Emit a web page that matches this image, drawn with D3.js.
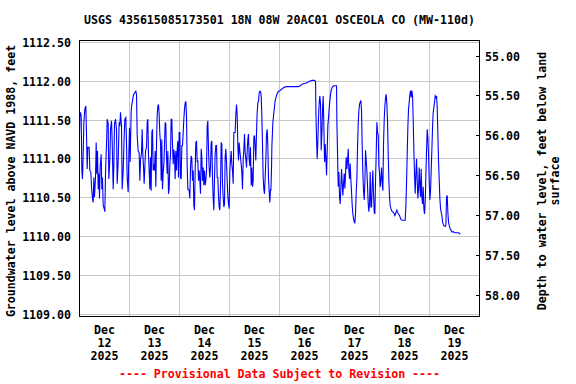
<!DOCTYPE html>
<html><head><meta charset="utf-8">
<script src="https://cdn.jsdelivr.net/npm/d3@7"></script>
<style>
body{margin:0;background:#fff}
svg{display:block}
text{font-family:"DejaVu Sans Mono","Liberation Mono",monospace;font-weight:bold;font-size:11.6px;fill:#000}
</style>
</head><body>
<svg id="chart" width="576" height="384"></svg>
<script>
const title = "USGS 435615085173501 18N 08W 20AC01 OSCEOLA CO (MW-110d)";
const leftAxisTitle = "Groundwater level above NAVD 1988, feet";
const rightAxisTitle = ["Depth to water level, feet below land", "surface"];
const footerText = "---- Provisional Data Subject to Revision ----";
const startTime = new Date(2025, 11, 12, 0, 0);
const endTime = new Date(2025, 11, 20, 0, 0);
const monthLabel = "Dec";
const yearLabel = "2025";
const dayLabels = ["12", "13", "14", "15", "16", "17", "18", "19"];
const levelTicks = [1109.0, 1109.5, 1110.0, 1110.5, 1111.0, 1111.5, 1112.0, 1112.5];
const depthTicks = [55.0, 55.5, 56.0, 56.5, 57.0, 57.5, 58.0];

// hours after Dec 12 2025 00:00
const hoursFromStart = [
0,0.16,0.48,0.8,1.12,1.44,1.76,2.08,2.56,3.04,
3.36,3.68,4.0,4.64,4.96,5.44,5.76,6.24,6.56,6.88,
7.2,7.68,8.0,8.32,8.64,8.96,9.28,9.6,9.92,10.4,
10.72,11.04,11.36,11.84,12.16,12.48,12.96,13.28,13.76,14.08,
14.56,14.88,15.36,15.68,16.16,16.48,16.8,17.28,17.76,18.08,
18.56,19.04,19.36,19.68,20.16,20.48,20.96,21.44,21.76,22.24,
22.56,22.88,23.36,23.68,24.0,24.32,24.8,25.12,25.44,25.76,
26.08,26.56,27.04,27.36,27.68,28.16,28.64,28.96,29.28,29.76,
30.08,30.4,30.72,31.04,31.36,31.68,32.16,32.48,32.8,33.12,
33.44,33.76,34.08,34.4,34.72,35.04,35.36,35.68,36.0,36.32,
36.64,36.96,37.28,37.6,37.92,38.24,38.56,38.88,39.2,39.52,
39.84,40.16,40.48,40.8,41.12,41.44,41.76,42.08,42.4,42.72,
43.04,43.36,43.68,44.0,44.32,44.64,44.96,45.28,45.6,45.92,
46.24,46.56,46.88,47.2,47.52,47.84,
48.16,48.48,48.8,49.12,49.44,49.76,50.08,50.4,50.72,51.04,
51.36,51.68,52.0,52.32,52.64,52.96,53.28,53.6,53.92,54.24,
54.56,54.88,55.2,55.52,55.84,56.16,56.48,56.8,57.12,57.44,
57.76,58.08,58.4,58.72,59.04,59.36,59.68,60.0,60.32,60.64,
60.96,61.28,61.6,61.92,62.24,62.56,62.88,63.2,63.52,63.84,
64.16,64.48,64.8,65.12,65.44,65.76,66.08,66.4,66.72,67.04,
67.36,67.68,68.0,68.32,68.64,68.96,69.28,69.6,69.92,70.24,
70.56,70.88,71.2,71.52,71.84,72.16,72.48,72.8,73.12,73.44,
73.76,74.08,74.4,74.72,75.04,75.36,75.68,76.0,76.32,76.64,
76.96,77.28,77.6,77.92,78.24,78.56,78.88,79.2,79.52,79.84,
80.16,80.48,80.8,81.12,81.44,81.76,82.08,82.4,82.72,83.04,
83.36,83.68,84.0,84.32,84.64,84.96,85.28,85.6,85.92,86.24,
86.56,86.88,87.2,87.52,87.84,88.16,88.48,88.8,89.12,89.44,
89.76,90.08,90.4,90.72,91.04,91.36,91.68,
91.86,92.18,92.34,92.82,93.46,93.94,94.74,95.54,96.34,97.14,
98.26,99.54,105.14,105.94,106.74,108.34,109.14,110.42,111.54,112.82,
113.3,113.46,113.78,114.1,114.42,114.74,115.06,115.38,115.7,116.02,
116.34,116.66,116.98,117.3,117.62,117.94,118.26,118.58,118.9,119.22,
119.54,119.86,120.18,120.5,120.82,121.3,121.94,123.38,123.54,123.86,
124.18,124.5,124.82,125.14,125.46,125.78,126.1,126.42,126.74,127.06,
127.38,127.7,128.02,128.34,128.66,128.98,129.3,129.62,129.94,130.26,
130.58,130.9,131.22,131.54,131.86,132.18,132.5,132.82,133.14,133.46,
133.78,134.1,134.42,134.74,135.06,135.38,135.7,136.02,136.34,136.66,
136.98,137.3,137.62,137.94,138.26,138.58,138.9,139.22,139.54,139.86,
140.18,140.5,140.82,141.14,141.46,141.78,142.1,142.42,142.74,143.06,
143.38,143.7,144.02,144.34,144.66,144.98,145.3,145.62,145.94,146.26,
146.58,146.9,147.22,147.54,147.86,148.18,148.5,148.82,149.14,149.46,
149.78,150.1,150.74,151.06,151.38,151.7,152.02,152.34,152.66,153.14,
153.62,154.26,154.9,156.34,156.66,156.98,157.3,157.62,157.94,158.26,
158.58,158.9,159.22,159.54,159.86,160.18,160.5,160.82,161.14,161.46,
161.78,162.1,162.42,162.74,163.06,163.38,163.7,164.02,164.34,164.66,
164.98,165.3,165.62,165.94,166.26,166.58,166.9,167.22,167.54,167.86,
168.18,168.5,168.82,169.14,169.46,169.78,170.1,170.42,170.74,171.06,
171.38,171.7,172.02,172.34,172.66,172.98,173.3,173.62,173.94,174.26,
174.58,174.9,175.22,175.54,175.86,176.18,176.5,176.82,177.14,177.46,
177.94,178.74,179.54,180.34,181.14,181.94,182.42,182.74
];

// groundwater level, feet above NAVD 1988
const levelFt = [
1111.32,1111.55,1111.60,1111.55,1110.85,1110.74,1111.06,1111.47,1111.64,1111.68,
1111.32,1110.87,1111.15,1111.15,1110.85,1110.83,1110.64,1110.49,1110.44,1110.76,
1110.51,1110.76,1111.21,1110.81,1111.10,1110.61,1110.81,1110.49,1110.89,1111.06,
1110.61,1110.76,1110.40,1110.36,1110.32,1110.81,1111.19,1111.51,1111.45,1110.74,
1110.98,1111.38,1111.49,1111.23,1110.61,1110.91,1111.45,1111.51,1111.38,1110.68,
1110.98,1111.47,1111.42,1111.60,1111.42,1110.61,1110.85,1111.28,1111.51,1111.53,
1111.21,1110.76,1110.57,1111.06,1111.40,1110.96,1111.62,1111.70,1111.74,1111.81,
1111.83,1111.85,1111.87,1111.83,1111.30,1111.10,1111.08,1110.72,1110.98,1111.08,
1111.38,1111.06,1110.91,1110.68,1110.89,1111.10,1111.15,1111.47,1111.51,1111.06,
1110.85,1110.61,1111.02,1110.59,1111.34,1111.38,1110.85,1110.93,1110.85,1111.10,
1110.64,1111.19,1111.55,1111.68,1111.70,1111.57,1111.32,1111.21,1110.72,1111.25,
1110.61,1110.83,1110.93,1111.17,1111.47,1111.45,1111.02,1110.81,1111.10,1110.55,
1110.61,1110.93,1111.06,1111.51,1111.51,1111.19,1110.93,1111.12,1111.04,1110.74,
1111.10,1110.85,1111.12,1111.23,1110.76,1111.34,
1111.34,1110.76,1110.74,1111.17,1111.17,1111.34,1111.51,1111.64,1111.72,1111.74,
1111.55,1110.91,1110.61,1110.61,1110.59,1110.49,1110.89,1111.04,1111.00,1110.72,
1110.85,1110.40,1110.34,1110.85,1111.21,1111.23,1110.96,1110.98,1110.72,1110.85,
1110.72,1110.55,1111.13,1111.02,1110.72,1110.89,1110.66,1110.85,1110.66,1110.72,
1110.85,1111.42,1111.49,1111.13,1110.89,1110.76,1110.89,1111.21,1111.23,1110.76,
1110.49,1110.34,1110.74,1111.06,1111.17,1111.17,1110.76,1110.76,1110.53,1110.38,
1110.34,1110.66,1111.21,1111.19,1110.68,1110.51,1110.38,1110.42,1111.02,1111.13,
1110.96,1110.72,1110.53,1110.42,1110.36,1110.85,1110.98,1111.10,1110.93,1110.85,
1110.68,1111.34,1111.34,1111.34,1111.57,1111.70,1111.57,1111.17,1110.98,1111.21,
1111.10,1111.02,1110.93,1110.83,1110.61,1110.98,1111.13,1111.32,1111.08,1111.00,
1110.89,1111.10,1111.25,1111.32,1111.00,1110.91,1111.15,1110.66,1110.89,1110.64,
1110.72,1111.28,1111.30,1111.15,1110.98,1111.34,1111.60,1111.72,1111.74,1111.85,
1111.87,1111.87,1111.81,1111.57,1111.19,1110.76,1110.61,1110.55,1110.76,1110.98,
1111.32,1111.38,1111.17,1110.74,1110.59,1110.44,1110.61,
1110.59,1110.89,1111.15,1111.47,1111.64,1111.75,1111.83,1111.87,1111.88,1111.90,
1111.92,1111.93,1111.93,1111.94,1111.96,1111.97,1111.98,1112.00,1112.01,1112.01,
1112.00,1111.62,1111.26,1111.00,1111.23,1111.53,1111.73,1111.81,1111.70,1111.11,
1111.32,1111.64,1111.81,1111.41,1110.96,1111.19,1111.00,1110.79,1111.11,1111.43,
1111.53,1111.66,1111.75,1111.83,1111.88,1111.92,1111.94,1111.94,1111.49,1111.06,
1110.64,1110.83,1110.51,1110.42,1110.64,1110.87,1110.68,1110.53,1110.68,1110.81,
1110.62,1110.81,1111.02,1110.87,1110.98,1111.13,1110.85,1110.74,1110.94,1110.72,
1110.57,1110.40,1110.29,1110.23,1110.19,1110.17,1110.31,1110.57,1110.74,1111.15,
1111.45,1111.62,1111.70,1111.73,1111.75,1111.62,1111.15,1110.81,1110.59,1110.47,
1110.70,1111.11,1110.98,1110.85,1110.64,1110.42,1110.32,1110.44,1110.83,1110.38,
1110.38,1110.68,1110.85,1110.55,1110.31,1110.29,1110.72,1111.06,1111.47,1111.34,
1111.30,1110.91,1110.81,1110.64,1110.74,1110.89,1110.68,1110.59,1111.19,1111.51,
1111.68,1111.79,1111.83,1111.70,1111.47,1111.06,1110.72,1110.51,1110.40,1110.36,
1110.34,1110.32,1110.31,1110.29,1110.27,1110.29,1110.32,1110.34,1110.31,1110.29,
1110.27,1110.22,1110.21,1110.21,1110.40,1110.70,1111.06,1111.41,1111.64,1111.73,
1111.83,1111.88,1111.79,1111.88,1111.81,1111.49,1111.11,1110.79,1110.55,1110.81,
1111.00,1110.72,1110.49,1110.62,1110.89,1110.64,1110.51,1110.87,1110.51,1110.42,
1110.64,1110.36,1110.29,1110.44,1110.79,1111.11,1111.38,1111.28,1111.06,1110.72,
1110.47,1110.59,1110.85,1111.11,1111.41,1111.60,1111.66,1111.73,1111.81,1111.79,
1111.81,1111.66,1111.32,1110.98,1110.72,1110.49,1110.36,1110.31,1110.27,1110.19,
1110.16,1110.14,1110.14,1110.13,1110.15,1110.51,1110.53,1110.31,1110.19,1110.14,
1110.10,1110.06,1110.06,1110.05,1110.05,1110.05,1110.04,1110.03
];

const series = hoursFromStart.map((h, i) => ({
  t: d3.timeMinute.offset(startTime, Math.round(h * 60)),
  v: levelFt[i]
}));

const svg = d3.select("#chart");
const plot = {left: 79.5, right: 479.5, top: 40.5, bottom: 316.5};

const x = d3.scaleTime().domain([startTime, endTime]).range([plot.left, plot.right]);
const y = d3.scaleLinear().domain([1109, 1112.5]).range([314.3, 42.3]);
const yDepth = d3.scaleLinear().domain([55, 58]).range([56, 295]);
const snap = v => Math.round(v - 0.5) + 0.5;

// grid
const grid = svg.append("g").attr("shape-rendering", "crispEdges")
  .attr("stroke", "#c8c8c8").attr("stroke-width", 1);
grid.selectAll("line.h").data(levelTicks).join("line")
  .attr("x1", plot.left).attr("x2", plot.right)
  .attr("y1", d => snap(y(d))).attr("y2", d => snap(y(d)));
const dayStarts = d3.timeDay.range(d3.timeDay.offset(startTime, 1), endTime);
grid.selectAll("line.v").data(dayStarts).join("line")
  .attr("x1", d => snap(x(d))).attr("x2", d => snap(x(d)))
  .attr("y1", plot.top).attr("y2", plot.bottom);

// data line
const line = d3.line().x(d => x(d.t)).y(d => y(d.v));
svg.append("path").datum(series)
  .attr("fill", "none").attr("stroke", "#0000ff").attr("stroke-width", 1.1)
  .attr("stroke-linejoin", "miter")
  .attr("d", line);

// frame
svg.append("rect").attr("x", plot.left).attr("y", plot.top)
  .attr("width", plot.right - plot.left).attr("height", plot.bottom - plot.top)
  .attr("fill", "none").attr("stroke", "#000").attr("shape-rendering", "crispEdges");

// left tick labels
svg.append("g").selectAll("text").data(levelTicks).join("text")
  .attr("x", 71).attr("y", d => y(d) + 4.5)
  .attr("text-anchor", "end").text(d => d3.format(".2f")(d));

// right ticks (inside the frame) and labels
const rt = svg.append("g");
rt.selectAll("line").data(depthTicks).join("line")
  .attr("shape-rendering", "crispEdges")
  .attr("x1", plot.right - 4).attr("x2", plot.right)
  .attr("y1", d => snap(yDepth(d))).attr("y2", d => snap(yDepth(d)))
  .attr("stroke", "#000");
rt.selectAll("text").data(depthTicks).join("text")
  .attr("x", 485).attr("y", d => yDepth(d) + 4.5)
  .text(d => d3.format(".2f")(d));

// x labels at noon
const noons = dayLabels.map((d, i) => d3.timeHour.offset(startTime, i * 24 + 12));
const xl = svg.append("g").selectAll("g").data(noons).join("g")
  .attr("transform", d => `translate(${x(d)},0)`);
xl.append("text").attr("y", 334).attr("text-anchor", "middle").text(monthLabel);
xl.append("text").attr("y", 347).attr("text-anchor", "middle").text((d, i) => dayLabels[i]);
xl.append("text").attr("y", 360).attr("text-anchor", "middle").text(yearLabel);

// title
svg.append("text").attr("x", (plot.left + plot.right) / 2).attr("y", 24)
  .attr("text-anchor", "middle").text(title);

// axis titles
svg.append("text").attr("transform", "translate(15,181) rotate(-90)")
  .attr("text-anchor", "middle").text(leftAxisTitle);
svg.append("text").attr("transform", "translate(546,181) rotate(-90)")
  .attr("text-anchor", "middle").text(rightAxisTitle[0]);
svg.append("text").attr("transform", "translate(559,181) rotate(-90)")
  .attr("text-anchor", "middle").text(rightAxisTitle[1]);

// footer
svg.append("text").attr("x", (plot.left + plot.right) / 2).attr("y", 378)
  .attr("text-anchor", "middle").style("fill", "#ff0000").text(footerText);
</script>
</body></html>
